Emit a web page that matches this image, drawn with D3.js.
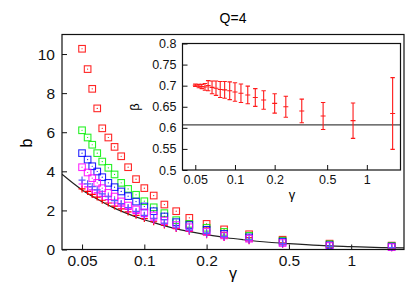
<!DOCTYPE html>
<html>
<head>
<meta charset="utf-8">
<script src="https://cdn.jsdelivr.net/npm/d3@7"></script>
<style>
  body { margin: 0; background: #fff; }
  svg { font-family: "Liberation Sans", Arial, sans-serif; }
</style>
</head>
<body>
<script>
// gamma values shared by all series
const gamma = [0.05, 0.0532, 0.056, 0.0592, 0.0626, 0.067, 0.0718, 0.0773, 0.0835, 0.0912,
  0.1, 0.111, 0.125, 0.1426, 0.165, 0.2, 0.243, 0.321, 0.466, 0.786, 1.569];

// main panel: b vs gamma
const redSq   = [10.27, 9.23, 8.22, 7.22, 6.2, 5.73, 5.25, 4.77, 4.21, 3.6, 3.14, 2.76, 2.3, 1.96, 1.62, 1.31, 1.03, 0.78, 0.5, 0.3, 0.2];
const greenSq = [6.1, 5.73, 5.36, 4.93, 4.5, 4.18, 3.84, 3.41, 3.1, 2.8, 2.47, 2.16, 1.86, 1.5, 1.31, 1.11, 0.9, 0.7, 0.45, 0.27, 0.18];
const blueSq  = [4.93, 4.6, 4.26, 3.99, 3.7, 3.41, 3.19, 2.97, 2.73, 2.45, 2.2, 1.96, 1.69, 1.4, 1.25, 1.01, 0.8, 0.62, 0.4, 0.22, 0.15];
const magSq   = [4.21, 3.94, 3.65, 3.41, 3.14, 2.9, 2.71, 2.46, 2.25, 2.05, 1.9, 1.74, 1.48, 1.25, 1.14, 0.9, 0.72, 0.55, 0.33, 0.18, 0.12];
const bluePl  = [3.55, 3.36, 3.22, 3.05, 2.85, 2.7, 2.5, 2.35, 2.15, 1.95, 1.75, 1.6, 1.35, 1.15, 1.0, 0.82, 0.66, 0.5, 0.3, 0.16, 0.1];
const magPl   = [3.35, 3.2, 3.05, 2.9, 2.72, 2.55, 2.38, 2.22, 2.05, 1.85, 1.68, 1.5, 1.3, 1.1, 0.95, 0.78, 0.62, 0.46, 0.28, 0.15, 0.09];
const redPl   = [3.1, 2.97, 2.82, 2.68, 2.52, 2.38, 2.22, 2.08, 1.92, 1.75, 1.58, 1.42, 1.25, 1.07, 0.93, 0.76, 0.61, 0.45, 0.27, 0.15, 0.09];

// fitted curve
const fitG = [0.04, 0.05, 0.06, 0.07, 0.08, 0.1, 0.12, 0.15, 0.2, 0.25, 0.3, 0.4, 0.5, 0.7, 1, 1.4, 1.8];
const fitB = [3.85, 3.05, 2.55, 2.17, 1.9, 1.52, 1.27, 1.0, 0.76, 0.6, 0.5, 0.37, 0.3, 0.21, 0.15, 0.1, 0.08];

// inset: beta vs gamma with errors
const beta    = [0.701, 0.699, 0.698, 0.697, 0.700, 0.696, 0.694, 0.691, 0.690, 0.688, 0.685, 0.682, 0.678, 0.672, 0.666, 0.658, 0.650, 0.640, 0.628, 0.617, 0.634];
const betaErr = [0.003, 0.004, 0.005, 0.008, 0.012, 0.015, 0.017, 0.019, 0.020, 0.021, 0.022, 0.022, 0.021, 0.021, 0.022, 0.023, 0.025, 0.028, 0.032, 0.042, 0.085];
const betaLine = 0.607;

const mainXTicks = [0.05, 0.1, 0.2, 0.5, 1];
const mainYTicks = [0, 2, 4, 6, 8, 10];
const insetXTicks = [0.05, 0.1, 0.2, 0.5, 1];
const insetYTicks = [0.5, 0.55, 0.6, 0.65, 0.7, 0.75, 0.8];

const W = 415, H = 297;
const svg = d3.select("body").append("svg").attr("width", W).attr("height", H);

// main scales
const x = d3.scaleLog().domain([0.04, 1.8]).range([62, 404]);
const y = d3.scaleLinear().domain([0, 11]).range([249.5, 34.5]);

svg.append("clipPath").attr("id", "mainclip")
  .append("rect").attr("x", 62).attr("y", 34.5).attr("width", 342).attr("height", 215);

const fmt = d => String(d);

const gx = svg.append("g").attr("transform", "translate(0,249.5)")
  .call(d3.axisBottom(x).tickValues(mainXTicks).tickSize(-5).tickPadding(5).tickFormat(fmt));
const gy = svg.append("g").attr("transform", "translate(62,0)")
  .call(d3.axisLeft(y).tickValues(mainYTicks).tickSize(-5).tickPadding(7).tickFormat(fmt));
[gx, gy].forEach(g => {
  g.select(".domain").remove();
  g.selectAll("text").attr("font-size", 15.5).attr("fill", "#111");
  g.selectAll("line").attr("stroke", "#111");
});

// fitted curve
const line = d3.line().x((d, i) => x(fitG[i])).y(d => y(d)).curve(d3.curveMonotoneX);
svg.append("path").attr("d", line(fitB)).attr("fill", "none")
  .attr("stroke", "#222").attr("stroke-width", 1.2).attr("clip-path", "url(#mainclip)");

const sqSeries = [
  { vals: redSq, color: "#ff0000" },
  { vals: greenSq, color: "#00ee00" },
  { vals: blueSq, color: "#0000ff" },
  { vals: magSq, color: "#ff00ff" }
];
const plSeries = [
  { vals: redPl, color: "#ff0000" },
  { vals: magPl, color: "#ff00ff" },
  { vals: bluePl, color: "#5a5aff" }
];

const s = 3.3;
sqSeries.forEach(ser => {
  const g = svg.append("g");
  g.selectAll("rect").data(ser.vals).join("rect")
    .attr("x", (d, i) => x(gamma[i]) - s)
    .attr("y", d => y(d) - s)
    .attr("width", 2 * s).attr("height", 2 * s)
    .attr("fill", "none").attr("stroke", ser.color).attr("stroke-width", 1.1)
    .attr("stroke-opacity", 0.85);
  g.selectAll("circle").data(ser.vals).join("circle")
    .attr("cx", (d, i) => x(gamma[i])).attr("cy", d => y(d)).attr("r", 0.6)
    .attr("fill", ser.color);
});
plSeries.forEach(ser => {
  const g = svg.append("g");
  g.selectAll("path").data(ser.vals).join("path")
    .attr("d", (d, i) => {
      const cx = x(gamma[i]), cy = y(d);
      return `M${cx - 3.5},${cy}H${cx + 3.5}M${cx},${cy - 3.5}V${cy + 3.5}`;
    })
    .attr("stroke", ser.color).attr("stroke-width", 1.2).attr("fill", "none");
});

// main frame
svg.append("rect").attr("x", 62).attr("y", 34.5).attr("width", 342).attr("height", 215)
  .attr("fill", "none").attr("stroke", "#111").attr("stroke-width", 1.2);

// labels
svg.append("text").attr("x", 233).attr("y", 23).attr("text-anchor", "middle")
  .attr("font-size", 14).text("Q=4");
svg.append("text").attr("transform", "translate(32,143) rotate(-90)")
  .attr("text-anchor", "middle").attr("font-size", 16).text("b");
svg.append("text").attr("x", 233).attr("y", 279).attr("text-anchor", "middle")
  .attr("font-size", 16).text("γ");

// ---- inset ----
const ix = d3.scaleLog().domain([0.04, 1.8]).range([182.5, 400.5]);
const iy = d3.scaleLinear().domain([0.5, 0.8]).range([170, 43.5]);

svg.append("rect").attr("x", 182.5).attr("y", 43.5).attr("width", 218).attr("height", 126.5)
  .attr("fill", "#fff").attr("stroke", "none");

const igx = svg.append("g").attr("transform", "translate(0,170)")
  .call(d3.axisBottom(ix).tickValues(insetXTicks).tickSize(-5).tickPadding(5).tickFormat(fmt));
const igy = svg.append("g").attr("transform", "translate(182.5,0)")
  .call(d3.axisLeft(iy).tickValues(insetYTicks).tickSize(-5).tickPadding(6).tickFormat(fmt));
[igx, igy].forEach(g => {
  g.select(".domain").remove();
  g.selectAll("text").attr("font-size", 12.5).attr("fill", "#111");
  g.selectAll("line").attr("stroke", "#111");
});

svg.append("line").attr("x1", 182.5).attr("x2", 400.5)
  .attr("y1", iy(betaLine)).attr("y2", iy(betaLine))
  .attr("stroke", "#444").attr("stroke-width", 1.2);

const eb = svg.append("g").attr("stroke", "#ff1a1a").attr("stroke-width", 1.1).attr("fill", "none");
beta.forEach((b, i) => {
  const cx = ix(gamma[i]);
  const y0 = iy(b), yt = iy(b + betaErr[i]), yb = iy(b - betaErr[i]);
  eb.append("path").attr("d",
    `M${cx},${yt}V${yb}M${cx - 2.2},${yt}H${cx + 2.2}M${cx - 2.2},${yb}H${cx + 2.2}M${cx - 2.5},${y0}H${cx + 2.5}`);
});

svg.append("rect").attr("x", 182.5).attr("y", 43.5).attr("width", 218).attr("height", 126.5)
  .attr("fill", "none").attr("stroke", "#111").attr("stroke-width", 1.2);

svg.append("text").attr("transform", "translate(139,107) rotate(-90)")
  .attr("text-anchor", "middle").attr("font-size", 13).text("β");
svg.append("text").attr("x", 292).attr("y", 199).attr("text-anchor", "middle")
  .attr("font-size", 13).text("γ");
</script>
</body>
</html>
